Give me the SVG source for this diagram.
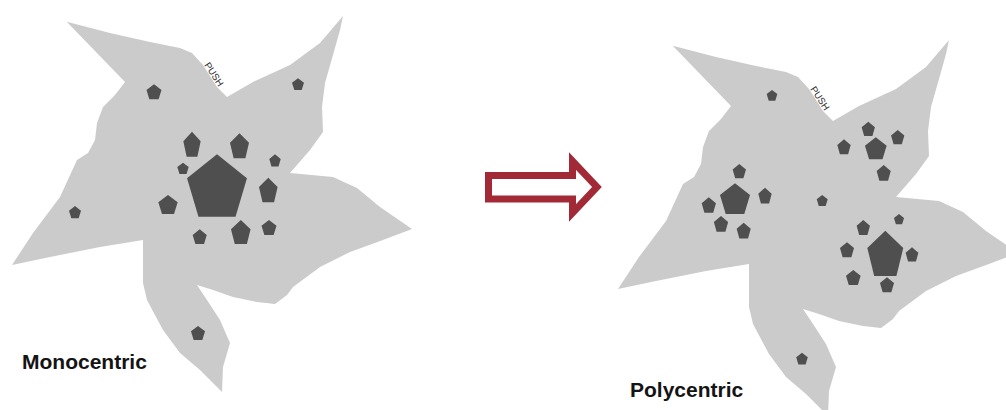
<svg xmlns="http://www.w3.org/2000/svg" xmlns:xlink="http://www.w3.org/1999/xlink" width="1006" height="410" viewBox="0 0 1006 410">
<style>
.city{fill:#cbcbcb;stroke:none}
.pc{fill:#4f4f4f}
.label{font-family:"Liberation Sans",Arial,sans-serif;font-weight:bold;font-size:21px;fill:#141414}
.push{font-family:"Liberation Sans",Arial,sans-serif;font-size:9.5px;fill:#2a2a2a}
.arrow{fill:#fff;stroke:#a12a36;stroke-width:7;stroke-linejoin:miter}
</style>
<defs>
<path id="star" d="M66.7,21.7 L110,33 L150,42 L180,48 L192,53 L203,65 L217,87 L227,97 L253,82 L290,65 L320,43 L343,16 L340,30 L333,55 L325,83 L322,107 L323,132 L310,150 L290,173 L333,177 L357,188 L380,207 L412,229 L383,240 L350,252 L320,267 L293,287 L287,295 L275,304 L257,302 L233,297 L213,290 L197,285 L207,300 L220,320 L230,343 L223,367 L222,392 L200,370 L180,353 L163,330 L147,300 L143,283 L143,240 L100,247 L50,257 L12,265 L33,233 L60,197 L77,160 L88,153 L95,140 L97,123 L103,107 L115,95 L125,82 Z"/>
<polygon id="p" points="0,-1 0.951,-0.309 0.588,0.809 -0.588,0.809 -0.951,-0.309"/>
</defs>
<rect width="1006" height="410" fill="#fff"/>
<g id="monocentric">
<use href="#star" class="city"/>
<text class="push" transform="translate(204,65) rotate(57)">PUSH</text>
<g class="pc">
<use href="#p" transform="translate(154,92.6) scale(7.9,8.3)"/>
<use href="#p" transform="translate(298,84.8) scale(6.3,6.5)"/>
<use href="#p" transform="translate(75,212.8) scale(6.3,6.8)"/>
<use href="#p" transform="translate(198,333.7) scale(7.4,7.7)"/>
<use href="#p" transform="translate(217,188.8) scale(31.5,34.5)"/>
<use href="#p" transform="translate(192,145.5) scale(9.1,13.8)"/>
<use href="#p" transform="translate(239.5,147) scale(10,13.8)"/>
<use href="#p" transform="translate(183,169) scale(6,6.3)"/>
<use href="#p" transform="translate(275,161) scale(6,6.8)"/>
<use href="#p" transform="translate(268.3,191.3) scale(9.8,13.6)"/>
<use href="#p" transform="translate(168,205.5) scale(10.2,10.5)"/>
<use href="#p" transform="translate(199.7,237.4) scale(7.4,8.1)"/>
<use href="#p" transform="translate(240.8,233.3) scale(10.3,13.3)"/>
<use href="#p" transform="translate(269,228.3) scale(7.9,8.3)"/>
</g>
<text class="label" x="22" y="369">Monocentric</text>
</g>
<g id="transition">
<polygon class="arrow" points="488.5,175.5 572.5,175.5 572.5,161 597,187 572.5,213 572.5,199 488.5,199"/>
</g>
<g id="polycentric">
<use href="#star" class="city" transform="translate(606,24)"/>
<text class="push" transform="translate(810,89) rotate(57)">PUSH</text>
<g class="pc">
<use href="#p" transform="translate(772,95.9) scale(5.6,5.9)"/>
<use href="#p" transform="translate(875.8,149.5) scale(11.4,12.2)"/>
<use href="#p" transform="translate(868.3,129.6) scale(7,7.9)"/>
<use href="#p" transform="translate(897.7,137.9) scale(7,7.9)"/>
<use href="#p" transform="translate(844,147.6) scale(7,8.3)"/>
<use href="#p" transform="translate(883.7,173.7) scale(7.4,8.7)"/>
<use href="#p" transform="translate(735,200.3) scale(15.8,17)"/>
<use href="#p" transform="translate(739.3,171.9) scale(7,7.9)"/>
<use href="#p" transform="translate(765,196.4) scale(7,8.7)"/>
<use href="#p" transform="translate(708.8,205.8) scale(7.5,8.5)"/>
<use href="#p" transform="translate(721,224.7) scale(7.5,8.7)"/>
<use href="#p" transform="translate(743.7,231.4) scale(7.4,8.7)"/>
<use href="#p" transform="translate(822.2,201.1) scale(5.8,6.1)"/>
<use href="#p" transform="translate(885.3,255.7) scale(18.9,25)"/>
<use href="#p" transform="translate(863.3,228.3) scale(7,8.3)"/>
<use href="#p" transform="translate(899,219.7) scale(5.3,5.7)"/>
<use href="#p" transform="translate(847,250.6) scale(7.4,8.3)"/>
<use href="#p" transform="translate(912,255.2) scale(6.7,7.9)"/>
<use href="#p" transform="translate(853.3,278.3) scale(7.7,8.3)"/>
<use href="#p" transform="translate(887,285.6) scale(7.4,8.3)"/>
<use href="#p" transform="translate(802,359.2) scale(6.1,6.5)"/>
</g>
<text class="label" x="630" y="396.5">Polycentric</text>
</g>
</svg>
